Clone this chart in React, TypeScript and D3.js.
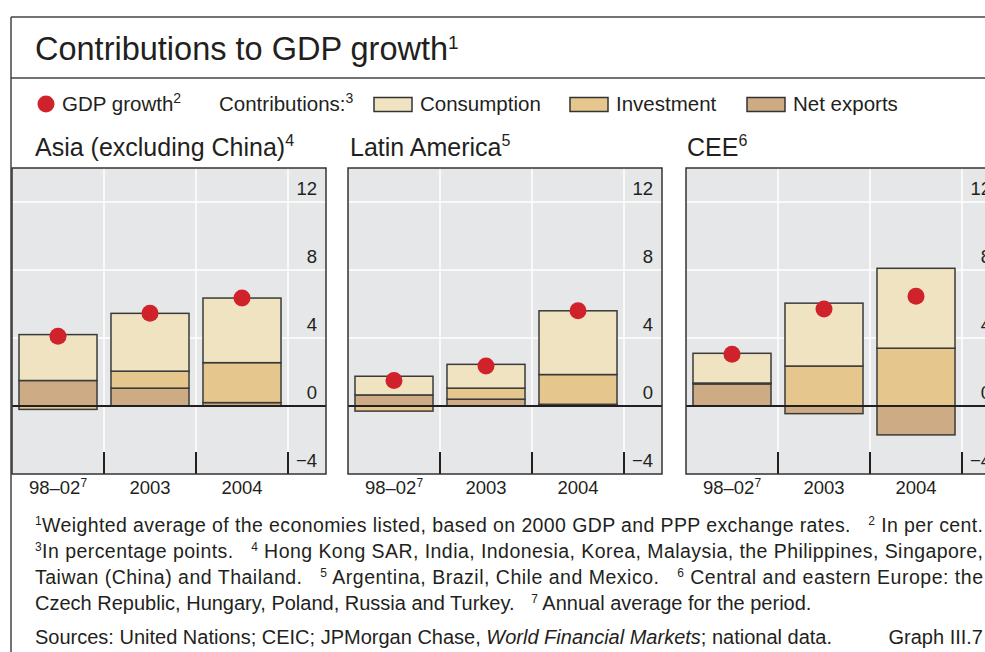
import * as d3 from "d3";

const categories = ["98–02", "2003", "2004"];
const categorySup = ["7", "", ""];

const asiaConsumption = [2.7, 3.4, 3.8];
const asiaInvestment = [-0.2, 1.0, 2.35];
const asiaNetExports = [1.5, 1.05, 0.2];
const asiaGdp = [4.1, 5.45, 6.35];

const latamConsumption = [1.1, 1.4, 3.75];
const latamInvestment = [-0.3, 0.65, 1.75];
const latamNetExports = [0.65, 0.4, 0.1];
const latamGdp = [1.5, 2.35, 5.6];

const ceeConsumption = [1.75, 3.7, 4.7];
const ceeInvestment = [0.05, 2.35, 3.4];
const ceeNetExports = [1.3, -0.45, -1.7];
const ceeGdp = [3.05, 5.7, 6.45];

const yTicks = [-4, 0, 4, 8, 12];

const regions = [
  { name: "Asia (excluding China)", sup: "4", cons: asiaConsumption, inv: asiaInvestment, nx: asiaNetExports, gdp: asiaGdp },
  { name: "Latin America", sup: "5", cons: latamConsumption, inv: latamInvestment, nx: latamNetExports, gdp: latamGdp },
  { name: "CEE", sup: "6", cons: ceeConsumption, inv: ceeInvestment, nx: ceeNetExports, gdp: ceeGdp },
];

const keys = ["netExports", "investment", "consumption"];
const colors: Record<string, string> = {
  consumption: "#f0e3c2",
  investment: "#e5c68d",
  netExports: "#cdab85",
};

const FONT = "'Liberation Sans', Arial, sans-serif";
const INK = "#231f20";
const BG = "#e6e7e8";
const RED = "#d0222b";

const panelLefts = [12, 348, 686];
const titleXs = [35, 350, 687];
const panelW = 314;
const panelTop = 168;
const panelBottom = 474;
const colsW = 276;

function Sup({ children, size }: { children: string; size: number }) {
  return (
    <tspan fontSize={size} dy={-size * 0.6}>
      {children}
    </tspan>
  );
}

function Panel({ region, left, titleX }: { region: (typeof regions)[number]; left: number; titleX: number }) {
  const x = d3
    .scaleBand<string>()
    .domain(categories)
    .range([left, left + colsW])
    .paddingInner(0.152)
    .paddingOuter(0.076);
  const y = d3.scaleLinear().domain([-4, 14]).range([panelBottom, panelTop]);

  const rows = categories.map((c, i) => ({
    cat: c,
    consumption: region.cons[i],
    investment: region.inv[i],
    netExports: region.nx[i],
  }));
  const series = d3
    .stack<any>()
    .keys(keys)
    .offset(d3.stackOffsetDiverging)(rows);

  const step = x.step();
  const colEdges = categories.map((_, i) => left + step * (i + 1));
  const right = left + panelW;

  return (
    <g>
      <text x={titleX} y={156} fontSize={25} fill={INK}>
        {region.name}
        <Sup size={16}>{region.sup}</Sup>
      </text>
      <rect x={left} y={panelTop} width={panelW} height={panelBottom - panelTop} fill={BG} />
      {/* grid */}
      {yTicks
        .filter((t) => t > 0)
        .map((t) => (
          <line key={t} x1={left} x2={right} y1={y(t)} y2={y(t)} stroke="#fff" strokeWidth={1.5} />
        ))}
      {colEdges.map((cx, i) => (
        <g key={i}>
          <line x1={cx} x2={cx} y1={panelTop} y2={panelBottom - 22} stroke="#fff" strokeWidth={1.5} />
          <line x1={cx} x2={cx} y1={panelBottom - 22} y2={panelBottom} stroke={INK} strokeWidth={2} />
        </g>
      ))}
      {/* bars */}
      {series.map((s) =>
        s.map((d, i) => {
          const y0 = y(d[0]);
          const y1 = y(d[1]);
          return (
            <rect
              key={s.key + i}
              x={x(categories[i])}
              y={Math.min(y0, y1)}
              width={x.bandwidth()}
              height={Math.abs(y0 - y1)}
              fill={colors[s.key]}
              stroke="#3a3a3a"
              strokeWidth={1.5}
            />
          );
        })
      )}
      <line x1={left} x2={right} y1={y(0)} y2={y(0)} stroke={INK} strokeWidth={2} />
      {region.gdp.map((g, i) => (
        <circle key={i} cx={x(categories[i])! + x.bandwidth() / 2} cy={y(g)} r={8.5} fill={RED} />
      ))}
      {/* y labels */}
      {yTicks.map((t) => (
        <text key={t} x={right - 9} y={y(t) - 7} textAnchor="end" fontSize={18.5} fill={INK}>
          {t < 0 ? `−${Math.abs(t)}` : t}
        </text>
      ))}
      <rect x={left} y={panelTop} width={panelW} height={panelBottom - panelTop} fill="none" stroke="#333" strokeWidth={1.5} />
      {categories.map((c, i) => (
        <text
          key={c}
          x={x(c)! + x.bandwidth() / 2}
          y={494}
          textAnchor="middle"
          fontSize={18.5}
          fill={INK}
        >
          {c}
          {categorySup[i] && <Sup size={12}>{categorySup[i]}</Sup>}
        </text>
      ))}
    </g>
  );
}

const legendItems = [
  { key: "consumption", label: "Consumption", x: 374 },
  { key: "investment", label: "Investment", x: 570 },
  { key: "netExports", label: "Net exports", x: 747 },
];

const SUP = 12;
const gap = "\u00a0\u00a0\u00a0";

export default function App() {
  return (
    <svg
      width={985}
      height={652}
      style={{ position: "absolute", left: 0, top: 0, background: "#fff" }}
      fontFamily={FONT}
    >
      {/* frame */}
      <line x1={11} x2={985} y1={17} y2={17} stroke="#444" strokeWidth={1.5} />
      <line x1={11} x2={985} y1={78} y2={78} stroke="#444" strokeWidth={1.5} />
      <line x1={11} x2={11} y1={17} y2={652} stroke="#444" strokeWidth={1.5} />

      <text x={35} y={60} fontSize={32.5} fill={INK}>
        Contributions to GDP growth
        <Sup size={19}>1</Sup>
      </text>

      {/* legend */}
      <circle cx={46} cy={104} r={8.5} fill={RED} />
      <text x={62} y={111} fontSize={20.5} fill={INK}>
        GDP growth<Sup size={14}>2</Sup>
      </text>
      <text x={219} y={111} fontSize={20.5} fill={INK}>
        Contributions:<Sup size={14}>3</Sup>
      </text>
      {legendItems.map((it) => (
        <g key={it.key}>
          <rect x={it.x} y={97.5} width={38} height={14} fill={colors[it.key]} stroke="#333" strokeWidth={1.5} />
          <text x={it.x + 46} y={111} fontSize={20.5} fill={INK}>
            {it.label}
          </text>
        </g>
      ))}

      {regions.map((r, i) => (
        <Panel key={r.name} region={r} left={panelLefts[i]} titleX={titleXs[i]} />
      ))}

      {/* footnotes */}
      <g fontSize={19.5} fill={INK}>
        <text x={35} y={532} textLength={948} lengthAdjust="spacing">
          <Sup size={SUP}>1</Sup>
          <tspan dy={SUP * 0.6}>Weighted average of the economies listed, based on 2000 GDP and PPP exchange rates.{gap}</tspan>
          <Sup size={SUP}>2</Sup>
          <tspan dy={SUP * 0.6}> In per cent.</tspan>
        </text>
        <text x={35} y={558} textLength={948} lengthAdjust="spacing">
          <Sup size={SUP}>3</Sup>
          <tspan dy={SUP * 0.6}>In percentage points.{gap}</tspan>
          <Sup size={SUP}>4</Sup>
          <tspan dy={SUP * 0.6}> Hong Kong SAR, India, Indonesia, Korea, Malaysia, the Philippines, Singapore,</tspan>
        </text>
        <text x={35} y={584} textLength={948} lengthAdjust="spacing">
          Taiwan (China) and Thailand.{gap}
          <Sup size={SUP}>5</Sup>
          <tspan dy={SUP * 0.6}> Argentina, Brazil, Chile and Mexico.{gap}</tspan>
          <Sup size={SUP}>6</Sup>
          <tspan dy={SUP * 0.6}> Central and eastern Europe: the</tspan>
        </text>
        <text x={35} y={610} fontSize={20}>
          Czech Republic, Hungary, Poland, Russia and Turkey.{gap}
          <Sup size={SUP}>7</Sup>
          <tspan dy={SUP * 0.6}> Annual average for the period.</tspan>
        </text>
        <text x={35} y={644} fontSize={20}>
          Sources: United Nations; CEIC; JPMorgan Chase, <tspan fontStyle="italic">World Financial Markets</tspan>;
          national data.
        </text>
        <text x={983} y={644} textAnchor="end" fontSize={20}>
          Graph III.7
        </text>
      </g>
    </svg>
  );
}
